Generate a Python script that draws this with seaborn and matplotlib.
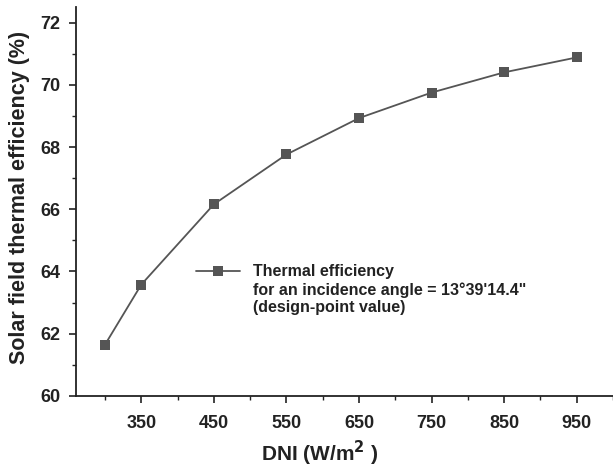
import numpy as np
import pandas as pd
import matplotlib
matplotlib.use("Agg")
import matplotlib.pyplot as plt
from matplotlib.ticker import MultipleLocator
from matplotlib.legend_handler import HandlerLine2D
import seaborn as sns

dni = [300, 350, 450, 550, 650, 750, 850, 950]
efficiency = [61.65, 63.58, 66.16, 67.76, 68.93, 69.75, 70.40, 70.88]
x_ticks = [350, 450, 550, 650, 750, 850, 950]
y_ticks = [60, 62, 64, 66, 68, 70, 72]
series_label = "Thermal efficiency\nfor an incidence angle = 13°39'14.4\"\n(design-point value)"

df = pd.DataFrame({"DNI": dni, "Efficiency": efficiency})


class TopLineHandler(HandlerLine2D):
    # legend handle next to the first line of a multi-line label
    def create_artists(self, legend, orig_handle, xdescent, ydescent, width, height, fontsize, trans):
        artists = super().create_artists(legend, orig_handle, xdescent, ydescent,
                                         width, height, fontsize, trans)
        for a in artists:
            a.set_ydata(np.asarray(a.get_ydata()) + 1.2 * fontsize)
        return artists


sns.set_theme(style="ticks")
plt.rcParams['font.family'] = ['Liberation Sans', 'DejaVu Sans']
plt.rcParams['font.weight'] = 'bold'

fig = plt.figure(figsize=(6.13, 4.68), dpi=100)
ax = fig.add_axes([0.124, 0.154, 0.876, 0.831])

sns.lineplot(data=df, x="DNI", y="Efficiency", ax=ax, color="#555555",
             marker="s", markersize=7.5, markeredgewidth=0, linewidth=1.3,
             label=series_label)

ax.set_xlim(260, 1000)
ax.set_ylim(60, 72.5)
ax.set_xticks(x_ticks)
ax.set_yticks(y_ticks)
ax.xaxis.set_minor_locator(MultipleLocator(100))
ax.yaxis.set_minor_locator(MultipleLocator(1))
ax.tick_params(axis="both", which="major", direction="out", length=5, width=1.2,
               labelsize=13, colors="#222222")
ax.tick_params(axis="x", which="major", pad=9)
ax.tick_params(axis="y", which="major", pad=6)
ax.tick_params(axis="both", which="minor", direction="out", length=3, width=1.0,
               color="#222222")
for lbl in ax.get_xticklabels() + ax.get_yticklabels():
    lbl.set_fontweight("bold")

sns.despine(ax=ax)
for side in ["left", "bottom"]:
    ax.spines[side].set_color("#222222")
    ax.spines[side].set_linewidth(1.3)

ax.set_xlabel("DNI (W/m$^{\\mathbf{2}}$ )", fontsize=15, fontweight="bold", color="#222222")
ax.set_ylabel("Solar field thermal efficiency (%)", fontsize=15.5, fontweight="bold",
              color="#222222")
ax.xaxis.label.set_va("center")
ax.yaxis.label.set_va("center")
ax.xaxis.set_label_coords(0.454, -0.148)
ax.yaxis.set_label_coords(-0.106, 0.51)

handles, labels = ax.get_legend_handles_labels()
leg = ax.legend(handles, labels, loc="upper left", bbox_to_anchor=(0.196, 0.375),
                frameon=False, fontsize=11.5, handlelength=2.8, handletextpad=0.8,
                handler_map={handles[0]: TopLineHandler()})
for t in leg.get_texts():
    t.set_fontweight("bold")
    t.set_color("#222222")

fig.savefig("out.png", dpi=100)
